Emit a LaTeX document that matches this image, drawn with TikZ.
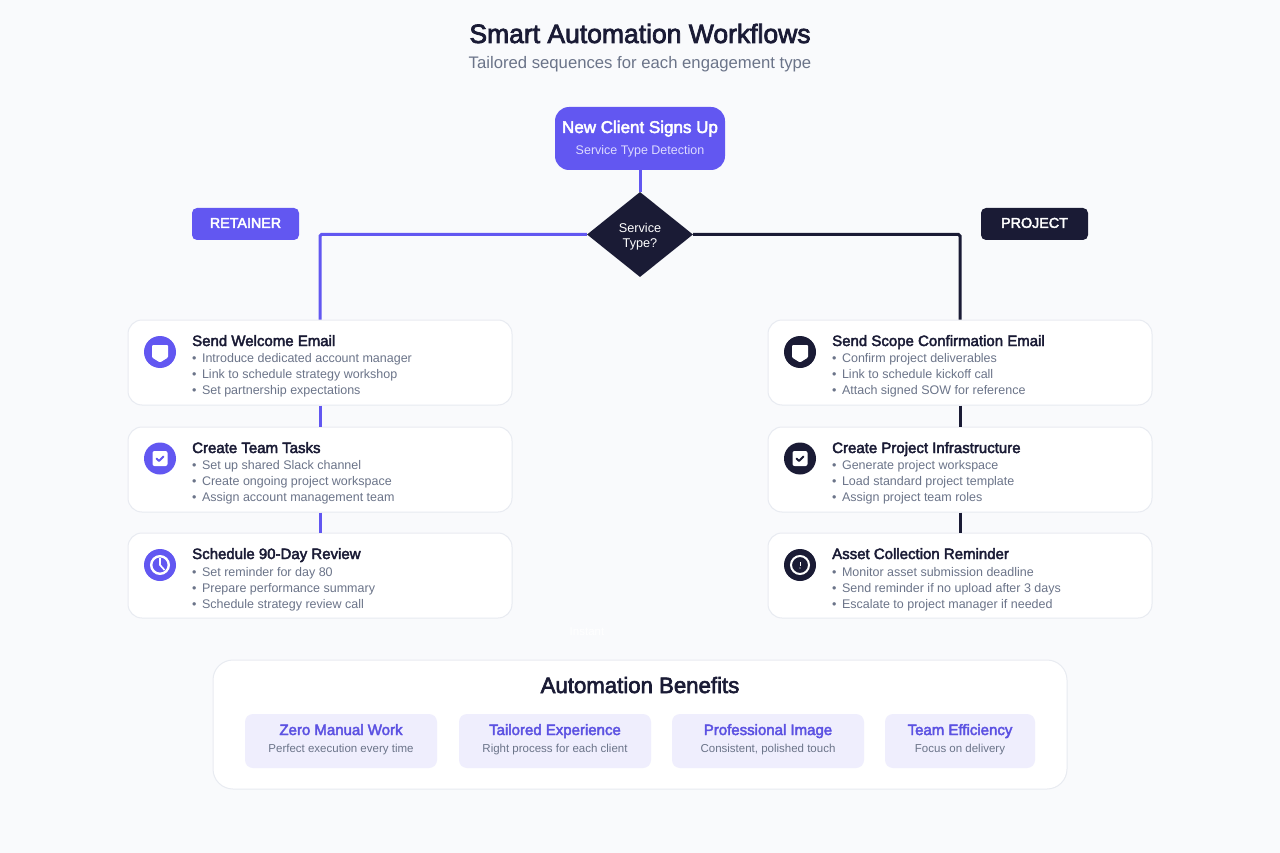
\documentclass[tikz,border=0pt]{standalone}
\usepackage{fontspec}
\setmainfont{Liberation Sans}[BoldFont=Liberation Sans, BoldFeatures={FakeBold=2.8}]
\usetikzlibrary{shapes.geometric}

\definecolor{pagebg}{HTML}{F9FAFC}
\definecolor{violet}{HTML}{6257F1}
\definecolor{ink}{HTML}{1A1B35}
\definecolor{slate}{HTML}{6B7489}
\definecolor{edge}{HTML}{E8EBF1}
\definecolor{tint}{HTML}{EFEEFD}
\definecolor{softline}{HTML}{DDDBFF}

\newcommand{\fs}[1]{\fontsize{#1}{#1}\selectfont}
\newcommand{\dotitem}{•\hspace{2pt} }

\tikzset{
  txt/.style={inner sep=0pt, anchor=base},
  heading/.style={txt, anchor=base west, font=\fs{15}\bfseries, text=ink},
  itemline/.style={txt, anchor=base west, font=\fs{12.5}, text=slate},
  card/.style={draw=edge, line width=1pt, fill=white, rounded corners=14pt, minimum width=384pt, minimum height=85pt, inner sep=0pt},
  badge/.style={circle, minimum size=32pt, inner sep=0pt},
  tag/.style={fill=violet, rounded corners=5pt, minimum width=107pt, minimum height=32pt, inner sep=0pt, text=white, text height=9.7pt, text depth=2pt, font=\fs{14.3}\bfseries},
  pill/.style={fill=tint, rounded corners=8pt, minimum height=54pt, inner sep=0pt},
  pilltitle/.style={txt, font=\fs{15}\bfseries, text=violet!92!ink},
  pilltext/.style={txt, font=\fs{11.5}, text=slate},
  railv/.style={line width=3pt, violet, rounded corners=1.5pt},
  raild/.style={line width=3pt, ink, rounded corners=1.5pt}
}

\begin{document}
\begin{tikzpicture}[x=1pt, y=-1pt]
  \fill [pagebg] (0,0) rectangle (1280,853);
  \useasboundingbox (0,0) rectangle (1280,853);

  \node [txt, font=\fs{26.5}\bfseries, text=ink] (title) at (640,43) {Smart Automation Workflows};
  \node [txt, font=\fs{16.7}, text=slate] (subtitle) at (640,69) {Tailored sequences for each engagement type};

  % top of the flow
  \node [fill=violet, rounded corners=14pt, minimum width=170pt, minimum height=63pt, inner sep=0pt] (signup) at (640,138.5) {};
  \node [txt, font=\fs{17}\bfseries, text=white] (signuptitle) at (640,133) {New Client Signs Up};
  \node [txt, font=\fs{12.5}, text=softline] (signuptext) at (640,155) {Service Type Detection};
  \node [diamond, fill=ink, minimum width=106pt, minimum height=85pt, inner sep=0pt] (decision) at (640,234.5) {};
  \node [txt, font=\fs{12.7}, text=white] (decisiona) at (640,232.5) {Service};
  \node [txt, font=\fs{12.7}, text=white] (decisionb) at (640,247.5) {Type?};

  \node [tag] (retainer) at (245.5,224) {RETAINER};
  \node [tag, fill=ink] (project) at (1034.5,224) {PROJECT};

  % retainer column
  \node [card] (welcome) at (320,362.5) {};
  \node [card] (tasks) at (320,469.5) {};
  \node [card] (review) at (320,575.5) {};

  % project column
  \node [card] (scope) at (960,362.5) {};
  \node [card] (infra) at (960,469.5) {};
  \node [card] (asset) at (960,575.5) {};

  \draw [railv] (signup.south) -- (decision.north);
  \draw [railv] (decision.west) -| (welcome.north);
  \draw [raild] (decision.east) -| (scope.north);
  \draw [railv] (welcome.south) -- (tasks.north);
  \draw [railv] (tasks.south) -- (review.north);
  \draw [raild] (scope.south) -- (infra.north);
  \draw [raild] (infra.south) -- (asset.north);

  \node [badge, fill=violet] (iconwelcome) at (160,352) {};
  \node [badge, fill=violet] (icontasks) at (160,458.5) {};
  \node [badge, fill=violet] (iconreview) at (160,565) {};
  \node [badge, fill=ink] (iconscope) at (800,352) {};
  \node [badge, fill=ink] (iconinfra) at (800,458.5) {};
  \node [badge, fill=ink] (iconasset) at (800,565) {};

  % shields
  \fill [white, rounded corners=1pt] (152,345) -- (168,345) -- (168,357.5) -- (160,362.5) -- (152,357.5) -- cycle;
  \fill [white, rounded corners=1pt] (792,345) -- (808,345) -- (808,357.5) -- (800,362.5) -- (792,357.5) -- cycle;

  % task boxes
  \fill [white, rounded corners=2pt] (152.5,451) rectangle (167.5,466);
  \draw [violet, line width=2pt, line cap=round, line join=round] (156.5,458.5) -- (159,461) -- (163.5,456.5);
  \fill [white, rounded corners=2pt] (792.5,451) rectangle (807.5,466);
  \draw [ink, line width=2pt, line cap=round, line join=round] (796.5,458.5) -- (799,461) -- (803.5,456.5);

  % clock
  \draw [white, line width=2.4pt] (160,565) circle (8.8);
  \draw [white, line width=1.6pt] (160,558) -- (160,565) -- (164.5,570);

  % alert
  \draw [white, line width=2pt] (800,565) circle (9);
  \draw [white, line width=1pt] (800,562) -- (800,566);
  \fill [white] (800,568) circle (0.6);

  \node [heading] (welcomehead) at (192,346) {Send Welcome Email};
  \node [itemline] (welcomea) at (192,362) {\dotitem Introduce dedicated account manager};
  \node [itemline] (welcomeb) at (192,378) {\dotitem Link to schedule strategy workshop};
  \node [itemline] (welcomec) at (192,394) {\dotitem Set partnership expectations};

  \node [heading] (taskshead) at (192,453) {Create Team Tasks};
  \node [itemline] (tasksa) at (192,469) {\dotitem Set up shared Slack channel};
  \node [itemline] (tasksb) at (192,485) {\dotitem Create ongoing project workspace};
  \node [itemline] (tasksc) at (192,501) {\dotitem Assign account management team};

  \node [heading] (reviewhead) at (192,559) {Schedule 90-Day Review};
  \node [itemline] (reviewa) at (192,576) {\dotitem Set reminder for day 80};
  \node [itemline] (reviewb) at (192,592) {\dotitem Prepare performance summary};
  \node [itemline] (reviewc) at (192,608) {\dotitem Schedule strategy review call};

  \node [heading] (scopehead) at (832,346) {Send Scope Confirmation Email};
  \node [itemline] (scopea) at (832,362) {\dotitem Confirm project deliverables};
  \node [itemline] (scopeb) at (832,378) {\dotitem Link to schedule kickoff call};
  \node [itemline] (scopec) at (832,394) {\dotitem Attach signed SOW for reference};

  \node [heading] (infrahead) at (832,453) {Create Project Infrastructure};
  \node [itemline] (infraa) at (832,469) {\dotitem Generate project workspace};
  \node [itemline] (infrab) at (832,485) {\dotitem Load standard project template};
  \node [itemline] (infrac) at (832,501) {\dotitem Assign project team roles};

  \node [heading] (assethead) at (832,559) {Asset Collection Reminder};
  \node [itemline] (asseta) at (832,576) {\dotitem Monitor asset submission deadline};
  \node [itemline] (assetb) at (832,592) {\dotitem Send reminder if no upload after 3 days};
  \node [itemline] (assetc) at (832,608) {\dotitem Escalate to project manager if needed};

  \node [txt, font=\fs{11.5}, text=white] (instant) at (587,635) {Instant};

  % benefits panel
  \node [draw=edge, line width=1pt, fill=white, rounded corners=20pt, minimum width=854pt, minimum height=129pt, inner sep=0pt] (panel) at (640,724.5) {};
  \node [txt, font=\fs{22.2}\bfseries, text=ink] (paneltitle) at (640,693) {Automation Benefits};

  \node [pill, minimum width=192pt] (zero) at (341,741) {};
  \node [pilltitle] (zerotitle) at (341,735) {Zero Manual Work};
  \node [pilltext] (zerotext) at (341,752) {Perfect execution every time};

  \node [pill, minimum width=192pt] (tailored) at (555,741) {};
  \node [pilltitle] (tailoredtitle) at (555,735) {Tailored Experience};
  \node [pilltext] (tailoredtext) at (555,752) {Right process for each client};

  \node [pill, minimum width=192pt] (image) at (768,741) {};
  \node [pilltitle] (imagetitle) at (768,735) {Professional Image};
  \node [pilltext] (imagetext) at (768,752) {Consistent, polished touch};

  \node [pill, minimum width=150pt] (team) at (960,741) {};
  \node [pilltitle] (teamtitle) at (960,735) {Team Efficiency};
  \node [pilltext] (teamtext) at (960,752) {Focus on delivery};
\end{tikzpicture}
\end{document}
